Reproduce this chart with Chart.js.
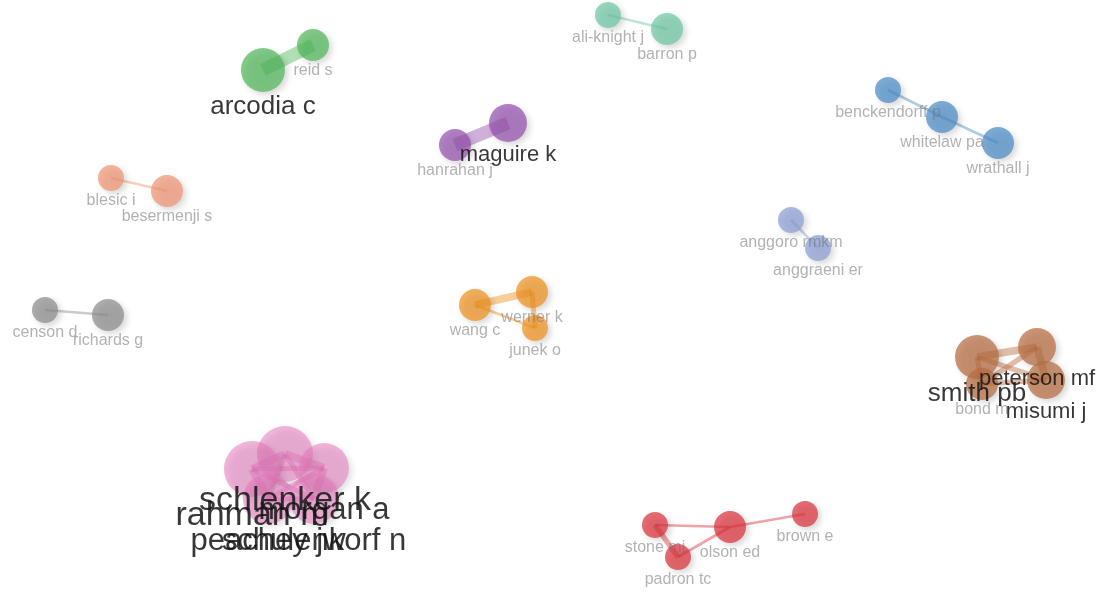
<!DOCTYPE html>
<html>
<head>
<meta charset="utf-8">
<script src="https://cdn.jsdelivr.net/npm/chart.js@4.4.1/dist/chart.umd.min.js"></script>
<style>
  html, body { margin: 0; padding: 0; background: #fff; }
  #wrap { width: 1104px; height: 600px; position: relative; }
</style>
</head>
<body>
<div id="wrap"><canvas id="networkChart"></canvas></div>
<script>
// map data (VOSviewer style co-authorship map)
const nodeLabels = [
  "arcodia c", "reid s", "ali-knight j", "barron p",
  "benckendorff p", "whitelaw pa", "wrathall j",
  "maguire k", "hanrahan j", "blesic i", "besermenji s",
  "anggoro rmkm", "anggraeni er", "censon d", "richards g",
  "wang c", "werner k", "junek o",
  "smith pb", "peterson mf", "misumi j", "bond m",
  "schlenker k", "rahman m", "morgan a", "peachey jw", "schulenkorf n",
  "stone mj", "padron tc", "olson ed", "brown e"
];
const nodeX = [263, 313, 608, 667, 888, 942, 998, 508, 455, 111, 167, 791, 818, 45, 108,
  475, 532, 535, 977, 1037, 1046, 982, 285, 252, 324, 268, 314, 655, 678, 730, 805];
const nodeY = [70, 45, 15, 29, 90, 117, 143, 123, 145, 178, 191, 220, 248, 310, 315,
  305, 292, 328, 357, 347, 380, 384, 454, 469, 468, 499, 499, 525, 557, 527, 514];
const nodeWeight = [4, 2, 1, 2, 1, 2, 2, 3, 2, 1, 2, 1, 1, 1, 2,
  2, 2, 1, 4, 3, 3, 2, 6, 6, 5, 5, 5, 1, 1, 2, 1];
const nodeCluster = [0, 0, 1, 1, 2, 2, 2, 3, 3, 4, 4, 5, 5, 6, 6,
  7, 7, 7, 8, 8, 8, 8, 9, 9, 9, 9, 9, 10, 10, 10, 10];
// links: [source, target, strength]
const links = [
  [0, 1, 5], [2, 3, 1], [4, 5, 1], [5, 6, 1], [7, 8, 5], [9, 10, 1], [11, 12, 1], [13, 14, 1],
  [15, 16, 3], [16, 17, 2], [15, 17, 1],
  [18, 19, 3], [18, 20, 2], [18, 21, 2], [19, 20, 3], [19, 21, 2], [20, 21, 2],
  [22, 23, 3], [22, 24, 3], [22, 25, 2], [22, 26, 2], [23, 24, 2], [23, 25, 3], [23, 26, 2],
  [24, 25, 2], [24, 26, 3], [25, 26, 2],
  [27, 29, 1], [29, 30, 1], [27, 28, 2], [28, 29, 1]
];

const clusterColors = [
  [80, 185, 90], [110, 200, 165], [75, 140, 200], [150, 80, 175], [240, 150, 115],
  [140, 160, 215], [140, 140, 140], [240, 145, 30], [185, 110, 65], [232, 120, 190], [220, 50, 60]
];
const labelSizes = [0, 16, 16, 22, 26, 31, 34];

function rgba(c, a) {
  return `rgba(${c[0]},${c[1]},${c[2]},${a})`;
}
function radiusFor(w) { return 10 + 3 * w; }

let datasets = [];

// one bubble dataset per cluster
clusterColors.forEach((col, ci) => {
  let pts = [];
  nodeLabels.forEach((lab, i) => {
    if (nodeCluster[i] === ci) {
      pts.push({ x: nodeX[i], y: nodeY[i], r: radiusFor(nodeWeight[i]) });
    }
  });
  datasets.push({
    type: "bubble",
    data: pts,
    backgroundColor: rgba(col, ci === 9 ? 0.55 : 0.72),
    borderWidth: 0,
    order: 0,
    clip: false
  });
});

// links drawn behind
links.forEach(([a, b, s]) => {
  let col = clusterColors[nodeCluster[a]];
  datasets.push({
    type: "line",
    data: [{ x: nodeX[a], y: nodeY[a] }, { x: nodeX[b], y: nodeY[b] }],
    borderColor: rgba(col, 0.45),
    borderWidth: 2.6 * s,
    pointRadius: 0,
    order: 1,
    clip: false
  });
});

const shadowPlugin = {
  id: "nodeShadow",
  beforeDatasetDraw(chart, args) {
    if (args.meta.type !== "bubble") return;
    const ctx = chart.ctx;
    ctx.save();
    ctx.shadowColor = "rgba(0,0,0,0.22)";
    ctx.shadowBlur = 6;
    ctx.shadowOffsetX = 3;
    ctx.shadowOffsetY = 3;
  },
  afterDatasetDraw(chart, args) {
    if (args.meta.type !== "bubble") return;
    chart.ctx.restore();
  }
};

const labelPlugin = {
  id: "nodeLabels",
  afterDatasetsDraw(chart) {
    const ctx = chart.ctx;
    const xs = chart.scales.x, ys = chart.scales.y;
    let order = nodeLabels.map((_, i) => i).sort((a, b) => nodeWeight[a] - nodeWeight[b]);
    ctx.save();
    ctx.textAlign = "center";
    ctx.textBaseline = "middle";
    order.forEach(i => {
      let w = nodeWeight[i];
      let f = labelSizes[w];
      let px = xs.getPixelForValue(nodeX[i]);
      let py = ys.getPixelForValue(nodeY[i]) + radiusFor(w) + f * 0.5 + 2;
      ctx.font = f + "px 'Liberation Sans', Arial, sans-serif";
      ctx.fillStyle = w <= 2 ? "rgba(115,115,115,0.55)" : "rgba(20,20,20,0.85)";
      ctx.fillText(nodeLabels[i], px, py);
    });
    ctx.restore();
  }
};

new Chart(document.getElementById("networkChart"), {
  type: "bubble",
  data: { datasets: datasets },
  options: {
    responsive: true,
    maintainAspectRatio: false,
    animation: false,
    events: [],
    layout: { padding: 0, autoPadding: false },
    plugins: {
      legend: { display: false },
      tooltip: { enabled: false }
    },
    scales: {
      x: { type: "linear", min: 0, max: 1104, display: false },
      y: { type: "linear", min: 0, max: 600, reverse: true, display: false }
    }
  },
  plugins: [shadowPlugin, labelPlugin]
});
</script>
</body>
</html>
